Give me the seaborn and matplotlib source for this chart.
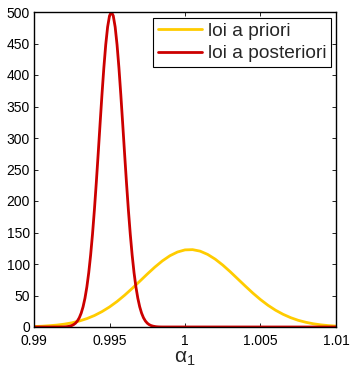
import numpy as np
import pandas as pd
import matplotlib
matplotlib.use('Agg')
import matplotlib.pyplot as plt
import seaborn as sns

# loi a priori : points lus sur la courbe jaune (pas de 0.0005)
prior_x = np.round(np.arange(0.99, 1.01 + 1e-9, 0.0005), 5)
prior_y = [0.8, 1.2, 2.0, 3.0, 4.5, 6.6, 9.5, 13.3, 18.2, 24.4,
           31.8, 40.5, 50.4, 61.2, 72.5, 84.0, 95.0, 104.9, 113.1, 119.0,
           122.4, 122.8, 120.4, 115.2, 107.7, 98.3, 87.6, 76.2, 64.8, 53.7,
           43.5, 34.4, 26.6, 20.1, 14.8, 10.6, 7.5, 5.1, 3.4, 2.2, 1.4]

# loi a posteriori : points lus sur la courbe rouge (pas de 0.000125 autour du pic)
post_core_x = np.round(np.arange(0.9915, 0.9985 + 1e-9, 0.000125), 6)
post_core_y = [0.0, 0.0, 0.05, 0.1, 0.2, 0.4, 0.8, 1.4, 2.3, 3.8,
               6.1, 9.6, 14.7, 22.0, 32.1, 45.7, 63.5, 86.2, 114.2, 147.5,
               186.0, 228.9, 274.9, 322.2, 368.5, 411.3, 448.0, 476.2, 493.9, 500.0,
               493.9, 476.2, 448.0, 411.3, 368.5, 322.2, 274.9, 228.9, 186.0, 147.5,
               114.2, 86.2, 63.5, 45.7, 32.1, 22.0, 14.7, 9.6, 6.1, 3.8,
               2.3, 1.4, 0.8, 0.4, 0.2, 0.1, 0.05]
post_x = np.concatenate([[0.99], post_core_x, [1.01]])
post_y = [0.0] + post_core_y + [0.0]

x_ticks = [0.99, 0.995, 1.0, 1.005, 1.01]
x_tick_labels = ['0.99', '0.995', '1', '1.005', '1.01']
y_ticks = list(range(0, 501, 50))

df = pd.concat([
    pd.DataFrame({'x': prior_x, 'y': prior_y, 'loi': 'loi a priori'}),
    pd.DataFrame({'x': post_x, 'y': post_y, 'loi': 'loi a posteriori'}),
])

sns.set_style('ticks')
plt.rcParams['font.family'] = ['Liberation Sans', 'DejaVu Sans']
plt.rcParams['mathtext.fontset'] = 'custom'
plt.rcParams['mathtext.it'] = 'Liberation Sans:italic'
plt.rcParams['mathtext.rm'] = 'Liberation Sans'

fig = plt.figure(figsize=(3.5, 3.68), dpi=100)
ax = fig.add_axes([34 / 350, 1 - 327 / 368, 302 / 350, 315 / 368])

sns.lineplot(data=df, x='x', y='y', hue='loi', estimator=None, sort=False,
             palette={'loi a priori': '#FFCC00', 'loi a posteriori': '#CC0000'},
             linewidth=2.0, ax=ax)

ax.set_xlim(0.99, 1.01)
ax.set_ylim(0, 500)
ax.set_xticks(x_ticks)
ax.set_xticklabels(x_tick_labels)
ax.set_yticks(y_ticks)
ax.tick_params(direction='in', length=3, width=0.6, labelsize=10, colors='black',
               top=True, right=True)
ax.tick_params(axis='x', pad=5)
ax.tick_params(axis='y', pad=3)
for s in ax.spines.values():
    s.set_linewidth(1.0)
    s.set_color('black')
ax.set_xlabel(r'$\mathrm{\alpha}_{\mathrm{1}}$', fontsize=15, labelpad=1)
ax.set_ylabel('')

# légende encadrée en haut à droite
leg = ax.legend(loc='upper right', bbox_to_anchor=(331 / 350, 1 - 18 / 368),
                bbox_transform=fig.transFigure, borderaxespad=0,
                fancybox=False, edgecolor='black', framealpha=1,
                fontsize=13.8, handlelength=2.3, handletextpad=0.3,
                labelspacing=0.25, borderpad=0.25)
leg.get_frame().set_linewidth(0.8)

fig.savefig('out.png', dpi=100)
